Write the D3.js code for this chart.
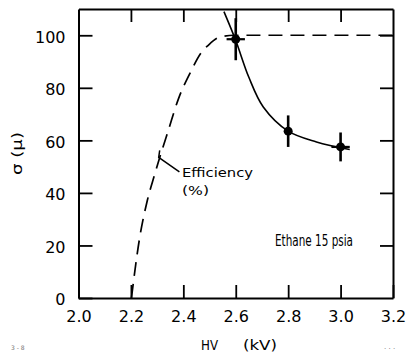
<!DOCTYPE html>
<html>
<head>
<meta charset="utf-8">
<script src="https://cdn.jsdelivr.net/npm/d3@7"></script>
<style>
  html, body { margin: 0; padding: 0; background: #fff; }
  svg { display: block; }
</style>
</head>
<body>
<script>
// ---- data ----
const xTicks = [2.0, 2.2, 2.4, 2.6, 2.8, 3.0, 3.2];
const yTicks = [0, 20, 40, 60, 80, 100];

// measured sigma points
const hv = [2.6, 2.8, 3.0];
const sigma = [98.5, 63.5, 57.5];
const sigmaErr = [8, 6, 5.5];
const hvErr = [0.035, 0, 0.035];

// solid fitted curve through sigma
const fitHV = [2.555, 2.6, 2.65, 2.705, 2.8, 2.908, 3.035];
const fitSigma = [109, 98, 84, 72.7, 63.5, 59.4, 56.5];

// dashed efficiency curve (%)
const effHV = [2.202, 2.232, 2.263, 2.29, 2.309, 2.343, 2.381, 2.427, 2.469, 2.495, 2.537, 2.594, 3.2];
const effPct = [0, 22.1, 37.3, 46.8, 53.2, 63.9, 75.7, 85.9, 93.5, 96.2, 99.2, 100, 100];

// ---- chart ----
const W = 408, H = 353;
const svg = d3.select("body").append("svg").attr("width", W).attr("height", H);

const x = d3.scaleLinear().domain([2.0, 3.2]).range([78.5, 393]);
const y = d3.scaleLinear().domain([0, 110]).range([298, 9]);

const font = "DejaVu Sans, Liberation Sans, sans-serif";

function styleAxis(g) {
  g.select(".domain").attr("stroke", "#000").attr("stroke-width", 2);
  g.selectAll(".tick line").attr("stroke", "#000").attr("stroke-width", 1.8);
  g.selectAll(".tick text").attr("fill", "#000").attr("font-family", font).attr("font-size", 16);
}

svg.append("g").attr("transform", `translate(0,${y(0)})`)
  .call(d3.axisBottom(x).tickValues(xTicks).tickFormat(d3.format(".1f"))
    .tickSizeInner(-13).tickSizeOuter(0).tickPadding(13))
  .call(styleAxis);

svg.append("g").attr("transform", `translate(${x(2.0)},0)`)
  .call(d3.axisLeft(y).tickValues(yTicks).tickFormat(d3.format("d"))
    .tickSizeInner(-14).tickSizeOuter(0).tickPadding(13))
  .call(styleAxis)
  .call(g => g.selectAll(".tick text").attr("dy", "0.42em"));

svg.append("g").attr("transform", `translate(0,${y(110)})`)
  .call(d3.axisTop(x).tickValues(xTicks.slice(1, -1)).tickFormat("")
    .tickSizeInner(-13).tickSizeOuter(0))
  .call(styleAxis);

svg.append("g").attr("transform", `translate(${x(3.2)},0)`)
  .call(d3.axisRight(y).tickValues(yTicks.slice(1)).tickFormat("")
    .tickSizeInner(-13).tickSizeOuter(0))
  .call(styleAxis);

// efficiency dashed curve
const effData = effHV.map((d, i) => [d, effPct[i]]);
svg.append("path")
  .datum(effData)
  .attr("fill", "none")
  .attr("stroke", "#000")
  .attr("stroke-width", 1.7)
  .attr("stroke-dasharray", "14,8")
  .attr("d", d3.line().x(d => x(d[0])).y(d => y(d[1])).curve(d3.curveMonotoneX));

// fitted solid curve
const fitData = fitHV.map((d, i) => [d, fitSigma[i]]);
svg.append("path")
  .datum(fitData)
  .attr("fill", "none")
  .attr("stroke", "#000")
  .attr("stroke-width", 1.6)
  .attr("d", d3.line().x(d => x(d[0])).y(d => y(d[1])).curve(d3.curveCatmullRom));

// error bars + points
const pts = hv.map((d, i) => ({ hv: d, s: sigma[i], se: sigmaErr[i], he: hvErr[i] }));
const pg = svg.append("g");
pg.selectAll("line.v").data(pts).join("line").attr("class", "v")
  .attr("x1", d => x(d.hv)).attr("x2", d => x(d.hv))
  .attr("y1", d => y(d.s + d.se)).attr("y2", d => y(d.s - d.se))
  .attr("stroke", "#000").attr("stroke-width", 2.6);
pg.selectAll("line.h").data(pts.filter(d => d.he > 0)).join("line").attr("class", "h")
  .attr("x1", d => x(d.hv - d.he)).attr("x2", d => x(d.hv + d.he))
  .attr("y1", d => y(d.s)).attr("y2", d => y(d.s))
  .attr("stroke", "#000").attr("stroke-width", 2.2);
pg.selectAll("circle").data(pts).join("circle")
  .attr("cx", d => x(d.hv)).attr("cy", d => y(d.s)).attr("r", 4.5).attr("fill", "#000");

// efficiency annotation leader
const lx0 = x(2.306), ly0 = y(53.5), lx1 = x(2.385), ly1 = y(48);
svg.append("path")
  .attr("d", `M${lx0 + 1},${ly0 - 7} L${lx0},${ly0} L${lx1},${ly1}`)
  .attr("fill", "none").attr("stroke", "#000").attr("stroke-width", 1.5);

svg.append("text").attr("x", 182).attr("y", 177)
  .attr("font-family", font).attr("font-size", 13)
  .attr("textLength", 71).attr("lengthAdjust", "spacingAndGlyphs")
  .text("Efficiency");
svg.append("text").attr("x", 182).attr("y", 195)
  .attr("font-family", font).attr("font-size", 13)
  .attr("textLength", 27).attr("lengthAdjust", "spacingAndGlyphs")
  .text("(%)");

svg.append("text").attr("x", 275).attr("y", 246)
  .attr("font-family", font).attr("font-size", 15)
  .attr("textLength", 78).attr("lengthAdjust", "spacingAndGlyphs")
  .text("Ethane 15 psia");

// axis titles
svg.append("text").attr("x", 201).attr("y", 350)
  .attr("font-family", font).attr("font-size", 14.5)
  .attr("textLength", 17).attr("lengthAdjust", "spacingAndGlyphs")
  .text("HV");
svg.append("text").attr("x", 243).attr("y", 350)
  .attr("font-family", font).attr("font-size", 14.5)
  .attr("textLength", 34).attr("lengthAdjust", "spacingAndGlyphs")
  .text("(kV)");

svg.append("text")
  .attr("transform", "translate(22,175) rotate(-90)")
  .attr("font-family", font).attr("font-size", 14)
  .attr("textLength", 43).attr("lengthAdjust", "spacingAndGlyphs")
  .text("σ (μ)");

// small scan marks
svg.append("text").attr("x", 11).attr("y", 350)
  .attr("font-family", font).attr("font-size", 6).attr("fill", "#777")
  .text("3 - 8");
svg.append("text").attr("x", 384).attr("y", 349)
  .attr("font-family", font).attr("font-size", 7).attr("fill", "#777")
  .text(". . .");
</script>
</body>
</html>
